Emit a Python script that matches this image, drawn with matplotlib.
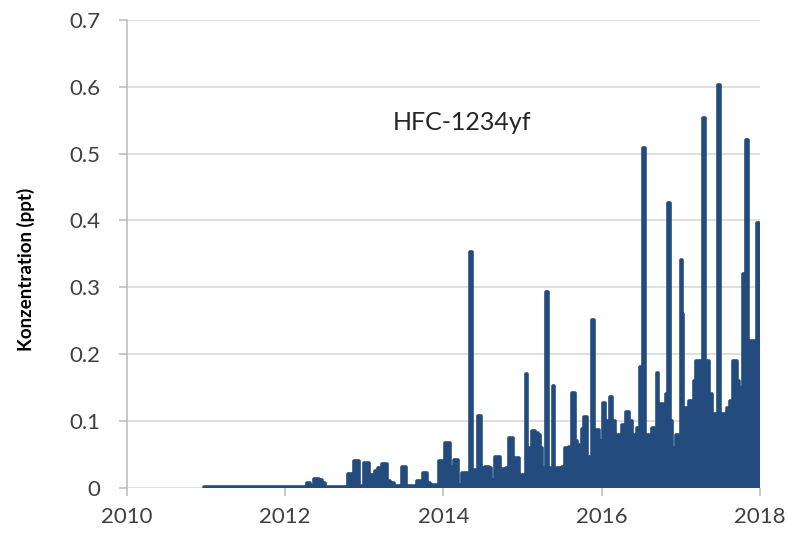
import numpy as np
import matplotlib.pyplot as plt

# decimal year / concentration (ppt)
years = [
    2010.97, 2012.19, 2012.25, 2012.30, 2012.34, 2012.40, 2012.45, 2012.49, 2012.52,
    2012.78, 2012.80, 2012.86, 2012.88, 2012.92, 2012.94, 2012.99, 2013.01, 2013.05,
    2013.07, 2013.12, 2013.14, 2013.20, 2013.24, 2013.28, 2013.30, 2013.36, 2013.40,
    2013.46, 2013.48, 2013.52, 2013.54, 2013.66, 2013.68, 2013.73, 2013.75, 2013.78,
    2013.80, 2013.85, 2013.93, 2013.95, 2014.01, 2014.03, 2014.07, 2014.09, 2014.12,
    2014.14, 2014.17, 2014.19, 2014.22, 2014.24, 2014.33, 2014.35, 2014.37, 2014.42,
    2014.44, 2014.47, 2014.49, 2014.56, 2014.59, 2014.61, 2014.64, 2014.66, 2014.70,
    2014.72, 2014.77, 2014.82, 2014.84, 2014.87, 2014.89, 2014.94, 2014.96, 2014.98,
    2015.03, 2015.05, 2015.07, 2015.11, 2015.13, 2015.17, 2015.21, 2015.23, 2015.26,
    2015.29, 2015.31, 2015.33, 2015.37, 2015.39, 2015.41, 2015.47, 2015.52, 2015.55,
    2015.61, 2015.64, 2015.67, 2015.71, 2015.74, 2015.76, 2015.80, 2015.83, 2015.87,
    2015.89, 2015.91, 2015.95, 2015.97, 2016.00, 2016.02, 2016.05, 2016.09, 2016.11,
    2016.14, 2016.19, 2016.23, 2016.27, 2016.33, 2016.36, 2016.40, 2016.43, 2016.46,
    2016.50, 2016.53, 2016.55, 2016.61, 2016.65, 2016.68, 2016.70, 2016.72, 2016.76,
    2016.79, 2016.82, 2016.85, 2016.87, 2016.89, 2016.93, 2016.95, 2016.99, 2017.00,
    2017.02, 2017.04, 2017.07, 2017.12, 2017.15, 2017.18, 2017.21, 2017.24, 2017.27,
    2017.29, 2017.31, 2017.34, 2017.37, 2017.41, 2017.44, 2017.46, 2017.48, 2017.50,
    2017.53, 2017.57, 2017.60, 2017.64, 2017.67, 2017.70, 2017.72, 2017.75, 2017.77,
    2017.80, 2017.83, 2017.85, 2017.88, 2017.90, 2017.94, 2017.97, 2017.99, 2018.00,
]
conc = [
    0.002, 0.002, 0.002, 0.007, 0.003, 0.014, 0.012, 0.008, 0.002,
    0.002, 0.021, 0.021, 0.040, 0.040, 0.003, 0.003, 0.038, 0.038,
    0.020, 0.020, 0.026, 0.030, 0.036, 0.036, 0.010, 0.007, 0.003,
    0.003, 0.031, 0.031, 0.003, 0.003, 0.010, 0.010, 0.022, 0.022,
    0.008, 0.005, 0.004, 0.040, 0.040, 0.068, 0.068, 0.032, 0.032,
    0.042, 0.042, 0.004, 0.004, 0.022, 0.022, 0.353, 0.027, 0.027,
    0.108, 0.108, 0.030, 0.032, 0.030, 0.012, 0.010, 0.046, 0.046,
    0.025, 0.028, 0.030, 0.075, 0.075, 0.045, 0.045, 0.008, 0.020,
    0.020, 0.170, 0.060, 0.060, 0.085, 0.083, 0.080, 0.060, 0.030,
    0.030, 0.293, 0.030, 0.030, 0.153, 0.030, 0.030, 0.032, 0.060,
    0.062, 0.142, 0.070, 0.065, 0.065, 0.088, 0.106, 0.046, 0.046,
    0.251, 0.087, 0.087, 0.027, 0.070, 0.127, 0.100, 0.100, 0.136,
    0.100, 0.080, 0.080, 0.095, 0.114, 0.100, 0.080, 0.070, 0.090,
    0.181, 0.508, 0.080, 0.080, 0.090, 0.090, 0.172, 0.120, 0.125,
    0.110, 0.140, 0.426, 0.100, 0.030, 0.060, 0.080, 0.080, 0.341,
    0.260, 0.120, 0.120, 0.130, 0.130, 0.160, 0.190, 0.190, 0.190,
    0.553, 0.190, 0.190, 0.140, 0.110, 0.110, 0.100, 0.603, 0.100,
    0.110, 0.110, 0.120, 0.130, 0.190, 0.190, 0.160, 0.150, 0.120,
    0.320, 0.520, 0.220, 0.170, 0.220, 0.220, 0.396, 0.220, 0.064,
]

x_ticks = [2010, 2012, 2014, 2016, 2018]
y_ticks = [0, 0.1, 0.2, 0.3, 0.4, 0.5, 0.6, 0.7]

plt.rcParams['font.family'] = ['Lato', 'DejaVu Sans']

color = '#234b7e'
grid_col = '#d9d9d9'
axis_col = '#bfbfbf'

fig = plt.figure(figsize=(7.87, 5.34), dpi=100)
ax = fig.add_axes([0.161, 0.086, 0.805, 0.877])

ax.fill_between(years, 0, conc, step='mid', color=color, linewidth=0)
ax.plot(years, conc, color=color, linewidth=2.6, drawstyle='steps-mid',
        solid_capstyle='round', solid_joinstyle='round')

ax.set_xlim(2010, 2018)
ax.set_ylim(0, 0.7)
ax.set_xticks(x_ticks)
ax.set_yticks(y_ticks)
ax.set_yticklabels(['0'] + [f'{v:.1f}' for v in y_ticks[1:]])

ax.grid(axis='y', color=grid_col, linewidth=1.2)
ax.set_axisbelow(True)
for s in ['top', 'right', 'bottom']:
    ax.spines[s].set_visible(False)
ax.spines['left'].set_color(axis_col)
ax.spines['left'].set_linewidth(1.2)
ax.tick_params(axis='both', colors=axis_col, length=5.8, width=1.2,
               labelsize=16, labelcolor='#404040')
ax.tick_params(axis='y', pad=13)
ax.tick_params(axis='x', pad=8)

ax.set_ylabel('Konzentration (ppt)', fontsize=13.5, fontweight='bold')
ax.yaxis.set_label_coords(-0.145, 0.466)
ax.text(2014.23, 0.535, 'HFC-1234yf', fontsize=18, ha='center', va='baseline',
        color='#262626')

fig.savefig('out.png', dpi=100)
